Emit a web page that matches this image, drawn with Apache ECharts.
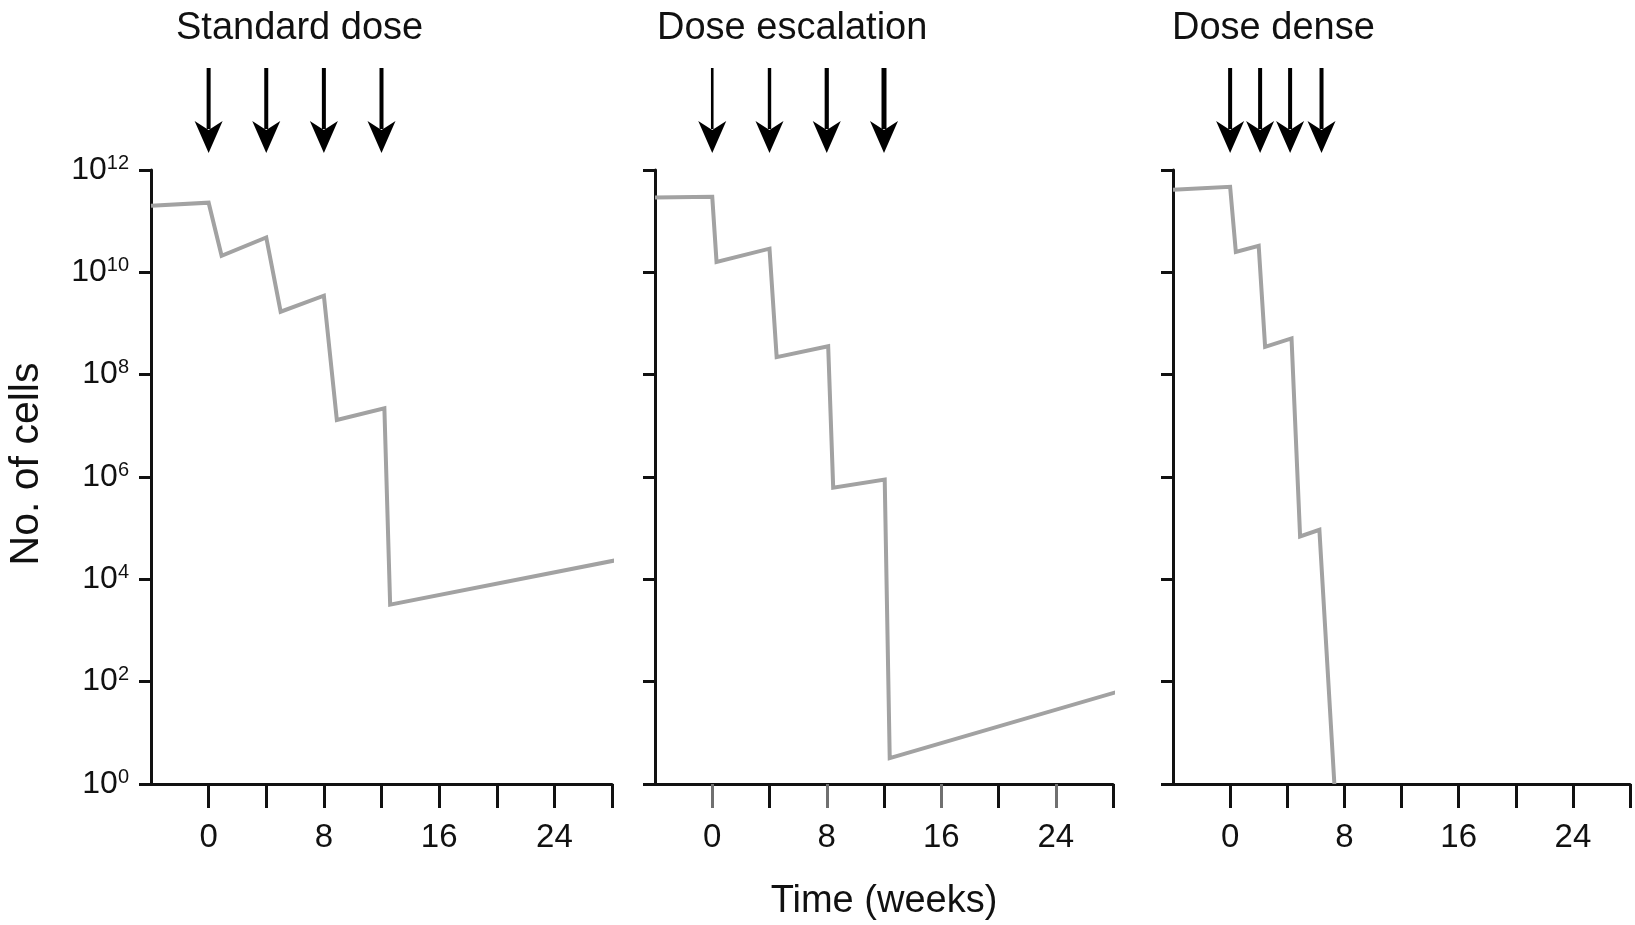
<!DOCTYPE html>
<html>
<head>
<meta charset="utf-8">
<title>Dose schedules</title>
<script src="https://cdn.jsdelivr.net/npm/echarts@6.0.0/dist/echarts.min.js"></script>
<style>
html, body { margin: 0; padding: 0; background: #fff; }
#main { width: 1635px; height: 925px; }
</style>
</head>
<body>
<div id="main"></div>
<script>
var panelTitles = ['Standard dose', 'Dose escalation', 'Dose dense'];

// weeks at which a dose is given (the arrows)
var doseWeeksStandard = [0, 4, 8, 12];
var doseWeeksEscalation = [0, 4, 8, 12];
var doseWeeksDense = [0, 2.1, 4.2, 6.4];

// [week, number of cells]
var cellsStandard = [[-4, 2.0e11], [0, 2.3e11], [0.9, 2.1e10], [4, 4.8e10], [5, 1.7e9], [8, 3.5e9], [8.9, 1.3e7], [12.2, 2.2e7], [12.6, 3.2e3], [28.4, 2.4e4]];
var cellsEscalation = [[-4, 2.9e11], [0, 3.0e11], [0.3, 1.6e10], [4, 2.9e10], [4.5, 2.2e8], [8.1, 3.6e8], [8.45, 6.2e5], [12.05, 8.9e5], [12.4, 3.2], [28.2, 62]];
var cellsDense = [[-4, 4.1e11], [0, 4.7e11], [0.4, 2.5e10], [2, 3.3e10], [2.45, 3.5e8], [4.3, 5.1e8], [4.9, 6.9e4], [6.25, 9.3e4], [7.3, 1]];

var weekTicks = [0, 4, 8, 12, 16, 20, 24, 28];
var weekLabels = [0, 8, 16, 24];
var cellTicks = [1, 1e2, 1e4, 1e6, 1e8, 1e10, 1e12];

var doseWeeks = [doseWeeksStandard, doseWeeksEscalation, doseWeeksDense];
var cells = [cellsStandard, cellsEscalation, cellsDense];

var myChart = echarts.init(document.getElementById('main'));
var font = '"Liberation Sans", Arial, Helvetica, sans-serif';
var ink = '#111';

// layout
var panelLeft = [151, 655, 1173];
var panelWidth = [461, 458, 457];
var titleLeft = [171, 652, 1167];

var option = {
    backgroundColor: '#fff',
    animation: false,
    title: [],
    grid: [],
    xAxis: [],
    yAxis: [],
    series: []
};

for (var i = 0; i < 3; i++) {
    option.title.push({
        text: panelTitles[i],
        left: titleLeft[i],
        top: 5,
        textStyle: { fontFamily: font, fontSize: 38, fontWeight: 'normal', color: ink }
    });
    // plot grid
    option.grid.push({
        left: panelLeft[i], top: 170, width: panelWidth[i], height: 614,
        outerBoundsMode: 'none', containLabel: false
    });
}
for (var i = 0; i < 3; i++) {
    // arrow strip above the plot
    option.grid.push({
        left: panelLeft[i], top: 68, width: panelWidth[i], height: 85,
        outerBoundsMode: 'none', containLabel: false
    });
}

for (var i = 0; i < 3; i++) {
    var xMain = {
        type: 'value',
        gridIndex: i,
        min: -4,
        max: 28,
        position: 'bottom',
        axisLine: { show: true, onZero: false, lineStyle: { color: ink, width: 3 } },
        axisTick: {
            show: true, length: 24, customValues: weekTicks,
            lineStyle: { color: ink, width: 3 }
        },
        axisLabel: {
            show: true, customValues: weekLabels, margin: 37,
            fontFamily: font, fontSize: 33, color: ink
        },
        splitLine: { show: false }
    };
    if (i === 1) {
        // dose escalation panel: labelled ticks are grey, the others black
        xMain.axisTick.customValues = weekLabels;
        xMain.axisTick.lineStyle = { color: '#707070', width: 3 };
        xMain.name = 'Time (weeks)';
        xMain.nameLocation = 'middle';
        xMain.nameGap = 99;
        xMain.nameTextStyle = { fontFamily: font, fontSize: 38, color: ink };
    }
    option.xAxis.push(xMain);

    option.yAxis.push({
        type: 'log',
        logBase: 10,
        gridIndex: i,
        min: 1,
        max: 1e12,
        splitNumber: 6,
        axisLine: { show: true, onZero: false, lineStyle: { color: ink, width: 3 } },
        axisTick: { show: true, length: 12, customValues: cellTicks, lineStyle: { color: ink, width: 3 } },
        axisLabel: {
            show: i === 0,
            customValues: cellTicks,
            margin: 22,
            formatter: function (v) {
                return '{b|10}{s|' + Math.round(Math.log(v) / Math.LN10) + '}';
            },
            rich: {
                b: { fontFamily: font, fontSize: 32, lineHeight: 34, color: ink },
                s: { fontFamily: font, fontSize: 20, lineHeight: 20, color: ink, verticalAlign: 'top' }
            }
        },
        splitLine: { show: false },
        name: i === 0 ? 'No. of cells' : '',
        nameLocation: 'middle',
        nameRotate: 90,
        nameGap: 104,
        nameTextStyle: { fontFamily: font, fontSize: 41, color: ink, padding: [0, 0, 0, 26] }
    });
}

// extra black ticks between the labels on the dose escalation panel (xAxis 3)
option.xAxis.push({
    type: 'value', gridIndex: 1, min: -4, max: 28, position: 'bottom',
    axisLine: { show: false, onZero: false },
    axisTick: { show: true, length: 24, customValues: [4, 12, 20, 28], lineStyle: { color: ink, width: 3 } },
    axisLabel: { show: false },
    splitLine: { show: false }
});

// axes for the arrow strips (xAxis 4..6, yAxis 3..5)
for (var i = 0; i < 3; i++) {
    option.xAxis.push({ type: 'value', gridIndex: 3 + i, min: -4, max: 28, show: false });
    option.yAxis.push({ type: 'value', gridIndex: 3 + i, min: 0, max: 1, show: false });
}

function arrowRenderer(panel) {
    return function (params, api) {
        var top = api.coord([api.value(0), 1]);
        var tip = api.coord([api.value(0), 0]);
        var headH = 32, headW = 14;
        var w = panel === 1 ? 2.6 + params.dataIndex * 0.8 : 4;
        return {
            type: 'group',
            children: [{
                type: 'line',
                shape: { x1: top[0], y1: top[1], x2: tip[0], y2: tip[1] - headH + 8 },
                style: { stroke: '#000', lineWidth: w }
            }, {
                type: 'polygon',
                shape: {
                    points: [
                        [tip[0] - headW, tip[1] - headH],
                        [tip[0], tip[1] - headH + 9],
                        [tip[0] + headW, tip[1] - headH],
                        [tip[0], tip[1]]
                    ]
                },
                style: { fill: '#000' }
            }]
        };
    };
}

for (var i = 0; i < 3; i++) {
    option.series.push({
        type: 'line',
        xAxisIndex: i,
        yAxisIndex: i,
        data: cells[i],
        showSymbol: false,
        symbol: 'none',
        clip: false,
        silent: true,
        z: 3,
        lineStyle: { color: '#a2a2a2', width: 4, join: 'miter' }
    });
    option.series.push({
        type: 'custom',
        xAxisIndex: 4 + i,
        yAxisIndex: 3 + i,
        data: doseWeeks[i].map(function (w) { return [w]; }),
        encode: { x: 0 },
        silent: true,
        renderItem: arrowRenderer(i)
    });
}

myChart.setOption(option);
</script>
</body>
</html>
